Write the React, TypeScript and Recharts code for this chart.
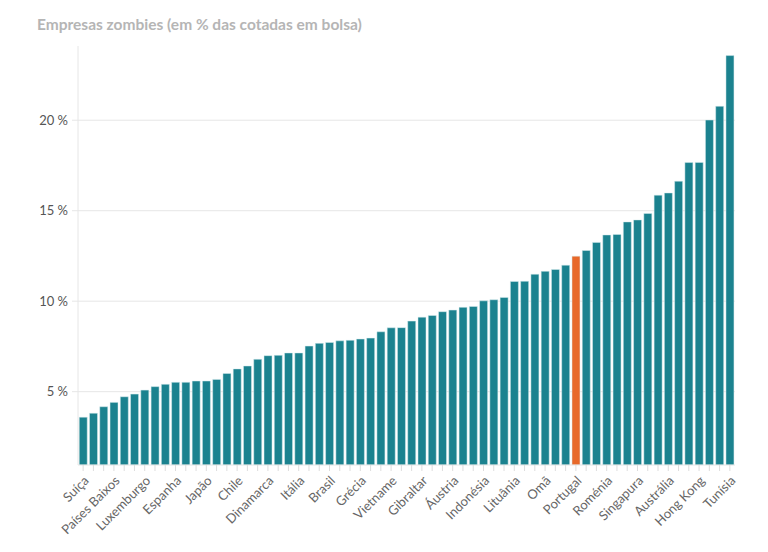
import { BarChart, Bar, XAxis, YAxis, CartesianGrid, Cell } from "recharts"

// Rótulos visíveis no eixo (um a cada três barras)
const rotulos = [
  "Suíça", "Países Baixos", "Luxemburgo", "Espanha", "Japão", "Chile", "Dinamarca", "Itália",
  "Brasil", "Grécia", "Vietname", "Gibraltar", "Áustria", "Indonésia", "Lituânia", "Omã",
  "Portugal", "Roménia", "Singapura", "Austrália", "Hong Kong", "Tunísia",
]

// % de empresas zombies, ordenado do menor para o maior
const valores = [
  3.59, 3.81, 4.17, 4.41, 4.72, 4.87, 5.09, 5.28, 5.41, 5.52, 5.52, 5.59, 5.59, 5.68, 6.01, 6.26,
  6.42, 6.79, 6.99, 7.01, 7.14, 7.14, 7.52, 7.67, 7.72, 7.81, 7.84, 7.91, 7.96, 8.31, 8.53, 8.54,
  8.9, 9.12, 9.21, 9.42, 9.51, 9.66, 9.71, 10.02, 10.08, 10.21, 11.09, 11.1, 11.49, 11.65, 11.75, 11.99,
  12.49, 12.8, 13.25, 13.66, 13.69, 14.38, 14.49, 14.85, 15.86, 15.98, 16.63, 17.66, 17.67, 20.01, 20.77, 23.57,
]

const yTicks = [5, 10, 15, 20]
const destaque = "Portugal"

const data = valores.map((v, i) => ({
  idx: i,
  pais: i % 3 === 0 ? rotulos[i / 3] : "",
  v,
}))

const FONT = "Lato, 'Noto Sans', sans-serif"

function PaisTick(props: any) {
  const { x, y, payload } = props
  const label = data[payload.value]?.pais ?? ""
  if (!label) return null
  return (
    <text
      x={x}
      y={y}
      dy="0.71em"
      textAnchor="end"
      transform={`rotate(-45, ${x}, ${y})`}
      fontSize={13}
      fill="#666"
      fontFamily={FONT}
    >
      {label}
    </text>
  )
}

export default function App() {
  return (
    <div style={{ position: "absolute", left: 0, top: 0, width: 768, height: 552, background: "#fff", fontFamily: FONT }}>
      <div
        style={{
          position: "absolute",
          left: 37,
          top: 15,
          fontSize: 15.5,
          fontWeight: 700,
          color: "#b5b5b5",
        }}
      >
        Empresas zombies (em % das cotadas em bolsa)
      </div>
      <BarChart
        width={768}
        height={552}
        data={data}
        margin={{ top: 46, right: 33, left: 0, bottom: 7 }}
        barCategoryGap="12%"
      >
        <CartesianGrid vertical={false} stroke="#e6e6e6" horizontalValues={yTicks} />
        <XAxis
          dataKey="idx"
          type="category"
          interval={0}
          height={80}
          tickSize={6}
          tickMargin={4}
          axisLine={{ stroke: "#e6e6e6" }}
          tickLine={{ stroke: "#dddddd" }}
          tick={<PaisTick />}
        />
        <YAxis
          width={78}
          domain={[0.95, 24.1]}
          ticks={yTicks}
          allowDataOverflow
          tickSize={6}
          tickMargin={4}
          axisLine={{ stroke: "#e6e6e6" }}
          tickLine={{ stroke: "#e6e6e6" }}
          tick={{ fontSize: 13, fill: "#555", fontFamily: FONT }}
          tickFormatter={(t: number) => `${t} %`}
        />
        <Bar dataKey="v" isAnimationActive={false} stroke="#d8ecee" strokeWidth={0.5}>
          {data.map((d, i) => (
            <Cell key={i} fill={d.pais === destaque ? "#e8692a" : "#1b828f"} />
          ))}
        </Bar>
      </BarChart>
    </div>
  )
}
